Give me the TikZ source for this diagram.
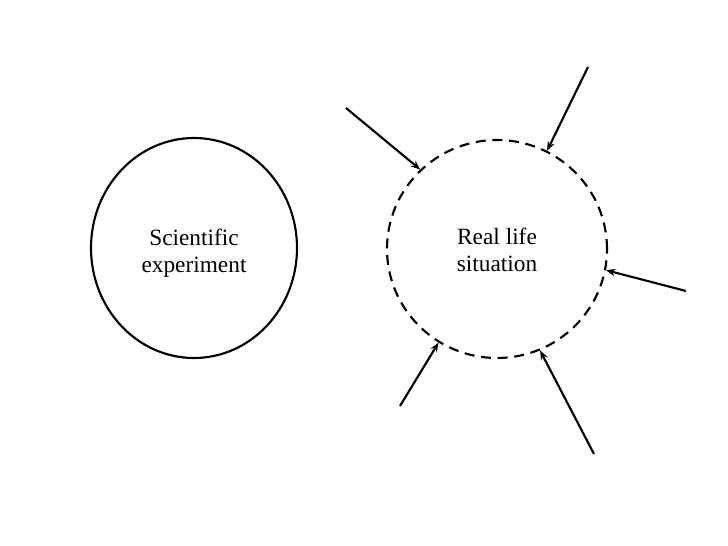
\documentclass[tikz,border=0pt]{standalone}
\usepackage{fontspec}
\setmainfont{Liberation Serif}
\usetikzlibrary{shapes.geometric,arrows.meta}
\begin{document}
\begin{tikzpicture}[x=0.75pt,y=-0.75pt,
  lbl/.style={align=center,font=\fontsize{17.5}{20}\selectfont},
  solidell/.style={ellipse,draw,line width=1.6pt,minimum width=154.5pt,minimum height=165pt,inner sep=0pt},
  dashell/.style={ellipse,draw,line width=1.6pt,dash pattern=on 7.5pt off 5pt,minimum width=165pt,minimum height=163.5pt,inner sep=0pt},
  inarrow/.style={line width=1.6pt,-{Stealth[length=7pt,width=5.5pt]}}]
\useasboundingbox (0,0) rectangle (728,546);
\node[solidell] (se) at (194,248) {};
\node[lbl] (setext) at (194,253) {Scientific\\experiment};
\node[dashell] (rl) at (497,249) {};
\node[lbl] (rltext) at (497,250) {Real life\\situation};
\coordinate (s1) at (346,108);
\coordinate (s2) at (588,67);
\coordinate (s3) at (686,291);
\coordinate (s4) at (400,406);
\coordinate (s5) at (594,454);
\draw[inarrow] (s1) -- (rl.134);
\draw[inarrow] (s2) -- (rl.63);
\draw[inarrow] (s3) -- (rl.-11);
\draw[inarrow] (s4) -- (rl.-122);
\draw[inarrow] (s5) -- (rl.-67);
\end{tikzpicture}
\end{document}
